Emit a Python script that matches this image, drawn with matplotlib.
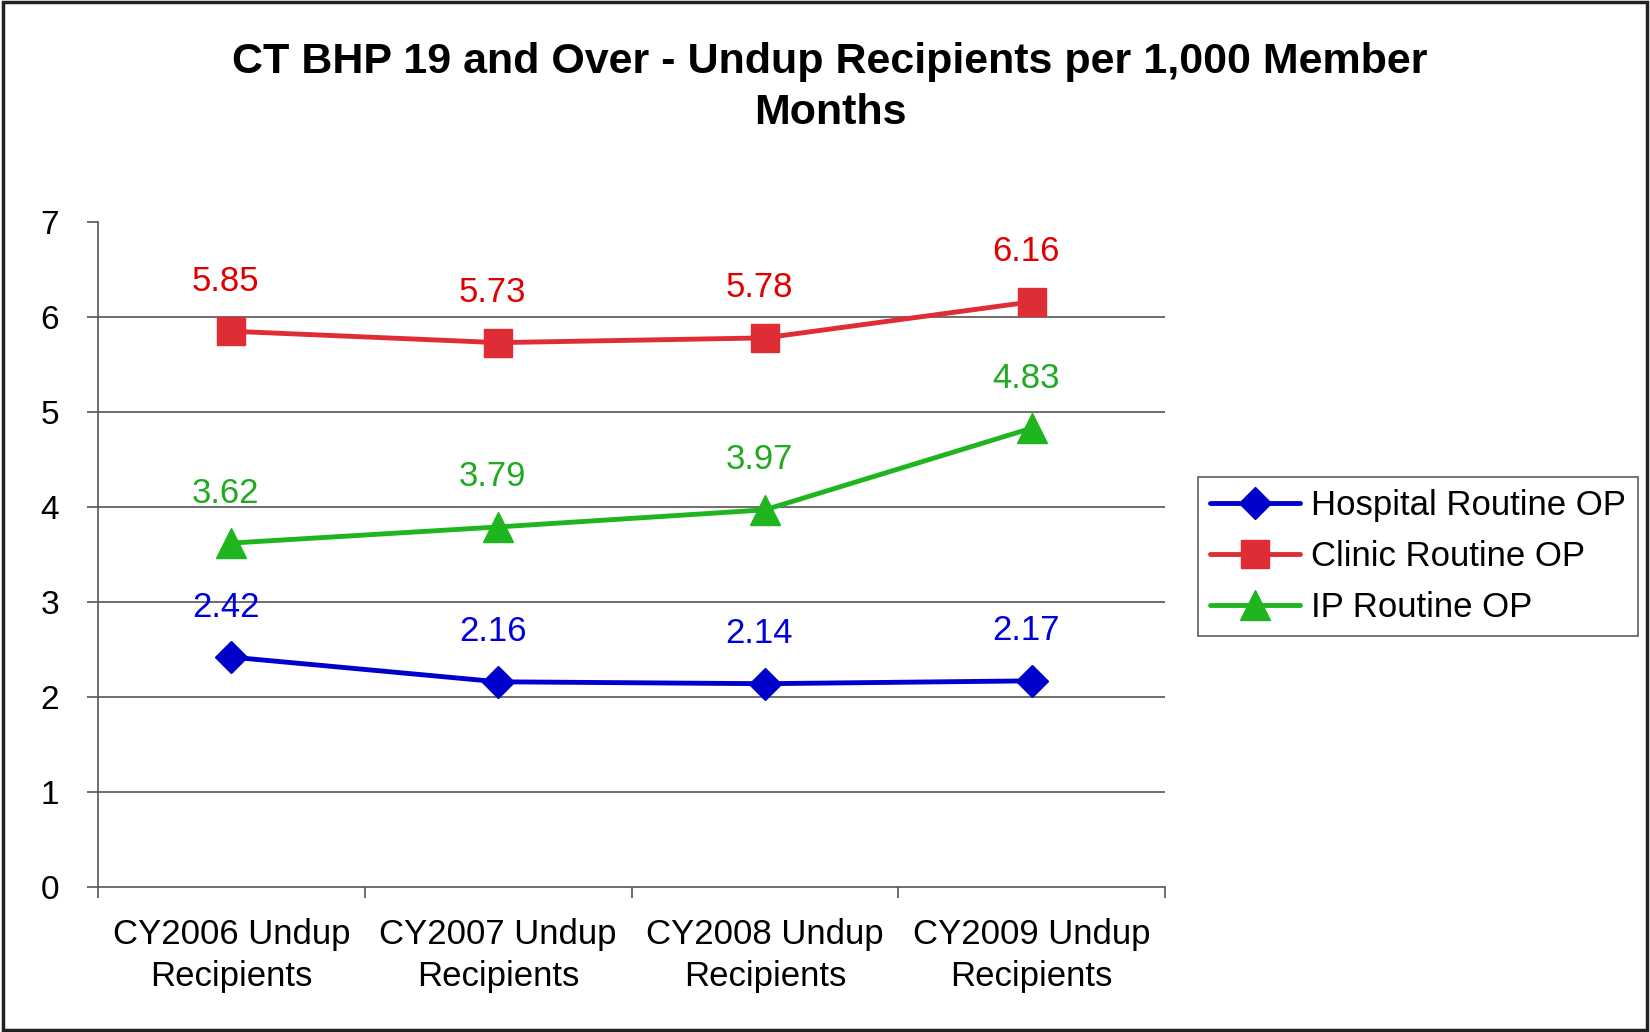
import matplotlib.pyplot as plt
from matplotlib.patches import Rectangle

plt.rcParams['font.family'] = ['Liberation Sans', 'DejaVu Sans']

categories = ["CY2006 Undup\nRecipients", "CY2007 Undup\nRecipients",
              "CY2008 Undup\nRecipients", "CY2009 Undup\nRecipients"]
hospital = [2.42, 2.16, 2.14, 2.17]
clinic = [5.85, 5.73, 5.78, 6.16]
ip = [3.62, 3.79, 3.97, 4.83]

series = [
  ("Hospital Routine OP", hospital, "#0000CC", "#0000DD", "D", 16),
  ("Clinic Routine OP", clinic, "#DE2D35", "#E00000", "s", 20),
  ("IP Routine OP", ip, "#1FB51F", "#1FAA1F", "^", 22),
]

fig = plt.figure(figsize=(16.5, 10.32), dpi=100)
ax = fig.add_axes([0.0594, 0.1405, 0.6467, 0.6444])

x = list(range(len(categories)))
for name, vals, col, txtcol, mk, ms in series:
  ax.plot(x, vals, color=col, lw=3.5, marker=mk, markersize=ms, label=name,
          solid_capstyle='round')
  for xi, v in zip(x, vals):
    ax.annotate(f"{v:.2f}", (xi, v), xytext=(-4, 36), textcoords='offset points',
                ha='center', va='center', fontsize=25, color=txtcol)

ax.set_xlim(-0.5, 3.5)
ax.set_ylim(0, 7)
ax.set_yticks(range(8))
for yv in range(1, 7):
  ax.axhline(yv, color='#555555', lw=1.2, zorder=0)

# category boundaries as ticks, labels at the centres
ax.set_xticks([i - 0.5 for i in range(5)])
ax.set_xticklabels([])
ax.set_xticks(x, minor=True)
ax.set_xticklabels(categories, minor=True, fontsize=25, linespacing=1.38)
ax.tick_params(axis='x', which='minor', length=0, pad=22)
ax.tick_params(axis='x', which='major', length=8, width=1.2, color='#555555')
ax.tick_params(axis='y', length=8, width=1.2, color='#555555', pad=20, labelsize=24)

for s in ['top', 'right']:
  ax.spines[s].set_visible(False)
for s in ['left', 'bottom']:
  ax.spines[s].set_color('#555555')
  ax.spines[s].set_linewidth(1.2)

fig.text(0.503, 0.915, "CT BHP 19 and Over - Undup Recipients per 1,000 Member\nMonths",
         ha='center', va='center', fontsize=31, fontweight='bold', linespacing=1.35)

leg = ax.legend(loc='upper left', bbox_to_anchor=(0.726, 0.538),
                bbox_transform=fig.transFigure, fontsize=25, frameon=True,
                fancybox=False, edgecolor='#333333', handlelength=2.6,
                labelspacing=0.52, borderpad=0.35, handletextpad=0.3,
                borderaxespad=0)
leg.get_frame().set_linewidth(1.2)

fig.patches.append(Rectangle((0.002, 0.002), 0.996, 0.996, transform=fig.transFigure,
                             fill=False, edgecolor='#222222', lw=2.5))

fig.savefig("out.png", dpi=100, facecolor='white')
